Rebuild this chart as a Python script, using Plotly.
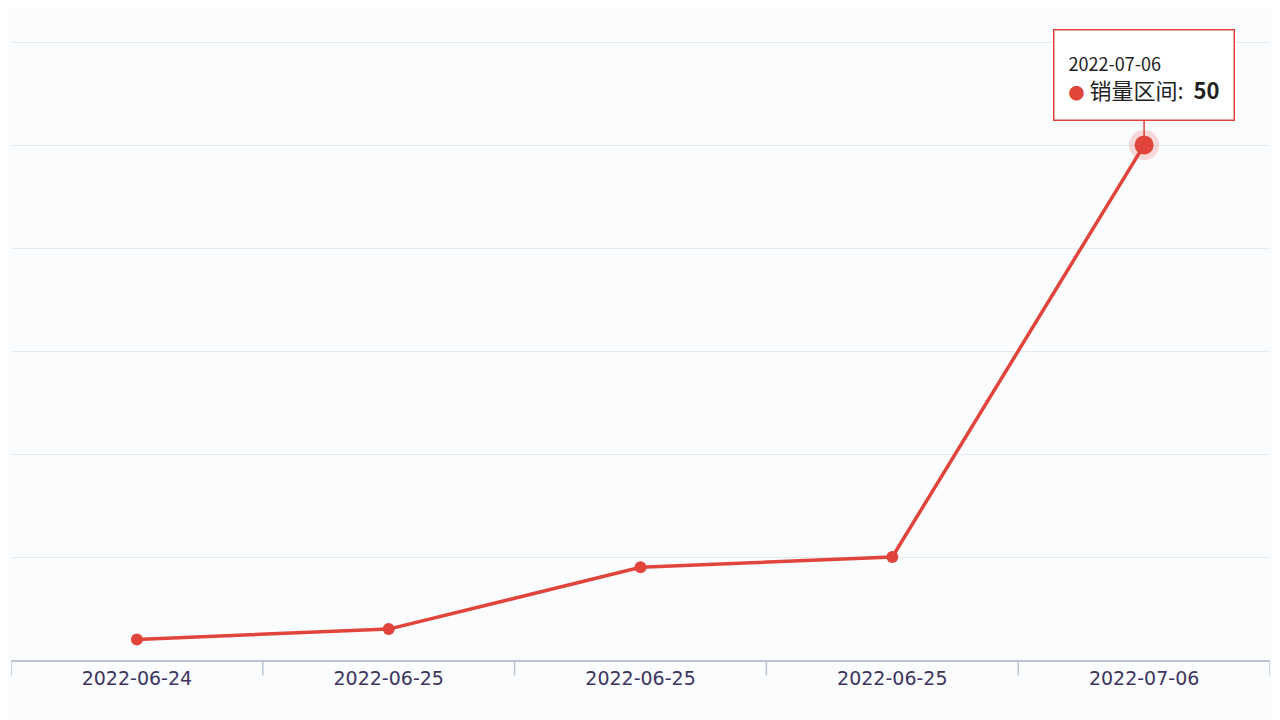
import plotly.graph_objects as go

dates = ["2022-06-24", "2022-06-25", "2022-06-25", "2022-06-25", "2022-07-06"]
values = [2, 3, 9, 10, 50]
series_name = "销量区间"
idx = list(range(len(dates)))
red = "#e0443b"

fig = go.Figure()
fig.add_trace(go.Scatter(x=idx, y=values, mode="lines+markers",
                         line=dict(color=red, width=3.5),
                         marker=dict(size=12, color=red), name=series_name,
                         hoverinfo="skip", cliponaxis=False))
fig.add_trace(go.Scatter(x=[idx[-1]], y=[values[-1]], mode="markers",
                         marker=dict(size=30, color="rgba(224,68,59,0.2)",
                                     line=dict(width=0)), hoverinfo="skip"))
fig.add_trace(go.Scatter(x=[idx[-1]], y=[values[-1]], mode="markers",
                         marker=dict(size=19, color=red), hoverinfo="skip"))

fig.add_annotation(x=idx[-1], y=values[-1], xref="x", yref="y",
                   text=f"<span style='font-size:18px'>{dates[-1]}</span>    <br>"
                        f"<span style='color:{red};font-size:16px'>●</span> {series_name}:  <b>{values[-1]}</b>",
                   showarrow=True, arrowhead=0, arrowwidth=1.5, arrowcolor=red,
                   ax=0, ay=-70, align="left", bordercolor=red, borderwidth=1.5,
                   borderpad=14, bgcolor="white",
                   font=dict(family="Noto Sans CJK SC", size=22, color="#222"))

fig.update_layout(
    width=1280, height=720, showlegend=False,
    margin=dict(l=3, r=18, t=32, b=68),
    paper_bgcolor="#fbfcfe", plot_bgcolor="#fbfcfe",
    font=dict(family="Noto Sans CJK SC"),
    xaxis=dict(tickmode="array", tickvals=idx, ticktext=dates,
               range=[-0.5, 4.5], showgrid=False, zeroline=False,
               showline=True, linecolor="#b9c3d6", linewidth=1.5,
               ticks="", tickfont=dict(size=19, color="#3d3560", family="DejaVu Sans")),
    yaxis=dict(range=[0, 60.2], dtick=10, showticklabels=False,
               gridcolor="#e3e8f2", gridwidth=1, zeroline=False),
)
for i in range(len(dates) + 1):
    fig.add_shape(type="line", xref="x", yref="paper", x0=i - 0.5, x1=i - 0.5,
                  y0=0, y1=-0.025, line=dict(color="#b9c3d6", width=1.5))
fig.write_html("out.html")
